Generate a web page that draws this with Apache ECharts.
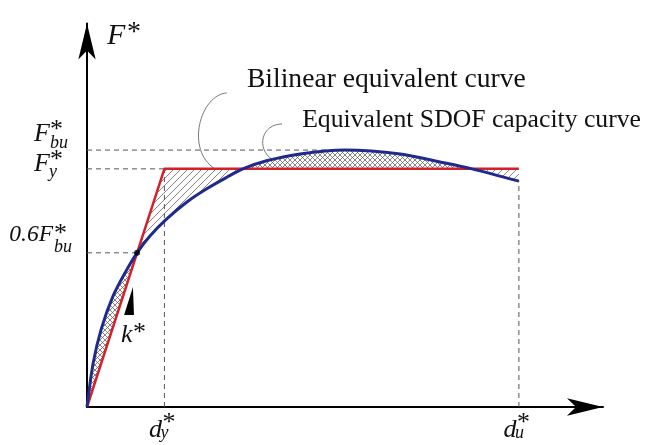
<!DOCTYPE html>
<html>
<head>
<meta charset="utf-8">
<script src="https://cdn.jsdelivr.net/npm/echarts@6/dist/echarts.min.js"></script>
<style>
html, body { margin: 0; padding: 0; background: #fff; }
#chart { width: 653px; height: 445px; }
</style>
</head>
<body>
<div id="chart"></div>
<script>
// equivalent SDOF capacity curve (d*, F*)
const capX = [0, 1.2, 2.8, 5.0, 7.5, 9.7, 12.2, 15.4, 19.3, 23.2, 27.1, 30.2, 34.8, 41.3, 50.0, 60.7, 68.4, 74.6, 83.7]
const capY = [0, 11.5, 20.5, 28.8, 35.3, 40.2, 44.6, 49.0, 53.4, 56.9, 59.9, 62.1, 64.2, 66.0, 67.0, 66.0, 63.9, 62.1, 58.9]

// bilinear equivalent curve
const biX = [0, 15.0, 83.7]
const biY = [0, 62.1, 62.1]

const Fbu = 67.0
const Fy = 62.1
const dyVal = 15.0
const duVal = 83.7

const yTickValues = [Fbu, Fy, 0.6 * Fbu]
const yTickText = [['F', 'bu'], ['F', 'y'], ['0.6F', 'bu']]
const xTickValues = [dyVal, duVal]
const xTickText = [['d', 'y'], ['d', 'u']]

// slope marker and its label
const kTriangle = [[8.9, 31.3], [7.2, 24.0], [9.1, 24.0]]
const kAnchor = [6.6, 18.8]

// leader curves: start, cp1, cp2, end
const leaders = [
  [[27.1, 81.9], [21.9, 81.4], [19.0, 67.0], [24.8, 62.1]],
  [[37.8, 73.8], [33.9, 73.8], [32.6, 67.5], [36.0, 64.4]]
]
const noteText = ['Bilinear equivalent curve', 'Equivalent SDOF capacity curve']
const noteAnchor = [[31.0, 83.2], [41.7, 72.6]]

const X_MAX = 100
const Y_MAX = 100

const BLUE = '#1f2a8c'
const RED = '#d3212b'
const SERIF = '"Liberation Serif", "DejaVu Serif", serif'

// bilinear value at x
const redAt = (x) => {
  for (let k = 1; k < biX.length; k++) {
    if (x <= biX[k]) {
      const t = (x - biX[k - 1]) / (biX[k] - biX[k - 1])
      return biY[k - 1] + t * (biY[k] - biY[k - 1])
    }
  }
  return biY[biY.length - 1]
}

// split the area between the two curves at their crossings
const crossIdx = [0]
for (let i = 1; i < capX.length - 1; i++) {
  if (Math.abs(capY[i] - redAt(capX[i])) < 0.3) crossIdx.push(i)
}
crossIdx.push(capX.length - 1)

const hatchPolys = []
for (let s = 0; s < crossIdx.length - 1; s++) {
  const a = crossIdx[s]
  const b = crossIdx[s + 1]
  const pts = []
  let diff = 0
  for (let i = a; i <= b; i++) {
    pts.push([capX[i], capY[i]])
    if (i > a) diff += capY[i] - redAt(capX[i])
  }
  if (Math.abs(capY[b] - redAt(capX[b])) > 0.3) pts.push([capX[b], redAt(capX[b])])
  for (let k = biX.length - 1; k >= 0; k--) {
    if (biX[k] > capX[a] && biX[k] < capX[b]) pts.push([biX[k], biY[k]])
  }
  hatchPolys.push({ pts, cross: diff > 0 })
}

const makeHatch = (cross, size) => {
  const c = document.createElement('canvas')
  c.width = size
  c.height = size
  const g = c.getContext('2d')
  g.strokeStyle = '#666'
  g.lineWidth = 0.8
  const seg = (x1, y1, x2, y2) => {
    g.beginPath()
    g.moveTo(x1, y1)
    g.lineTo(x2, y2)
    g.stroke()
  }
  seg(0, size, size, 0)
  seg(-1, 1, 1, -1)
  seg(size - 1, size + 1, size + 1, size - 1)
  if (cross) {
    seg(0, 0, size, size)
    seg(size - 1, -1, size + 1, 1)
    seg(-1, size - 1, 1, size + 1)
  }
  return { image: c, repeat: 'repeat' }
}
const singleFill = makeHatch(false, 7)
const crossFill = makeHatch(true, 5)

let peakI = 0
capY.forEach((v, i) => { if (v > capY[peakI]) peakI = i })
const guides = [
  [[0, Fbu], [capX[peakI], Fbu]],
  [[0, Fy], [dyVal, Fy]],
  [[0, 0.6 * Fbu], [dyVal * 0.6 * Fbu / Fy, 0.6 * Fbu]],
  [[dyVal, 0], [dyVal, Fy]],
  [[duVal, 0], [duVal, capY[capY.length - 1]]]
]

// text pieces: [text, size, italic, dx, dy, align]
const yLabelLayout = [
  [[-37, -15.8, 26], [-37, -19.5], [-37, -7]],
  [[-37, -4.8, 26], [-37, -8.5], [-38, 3]],
  [[-34, -17.8, 23.5], [-33, -19], [-33, -6]]
]
const labels = []
yTickValues.forEach((v, i) => {
  const L = yLabelLayout[i]
  labels.push({ at: [0, v], parts: [
    [yTickText[i][0], L[0][2], true, L[0][0], L[0][1], 'right'],
    ['*', 26, false, L[1][0], L[1][1], 'left'],
    [yTickText[i][1], 18, true, L[2][0], L[2][1], 'left']
  ] })
})
xTickValues.forEach((v, i) => {
  labels.push({ at: [v, 0], parts: [
    [xTickText[i][0], 26, true, -15.4, 23, 'left'],
    ['*', 26, false, -2, 16.5, 'left'],
    [xTickText[i][1], 18, true, -4, 26, 'left']
  ] })
})
labels.push({ at: [0, Y_MAX], parts: [['F', 30, true, 20, 12.5, 'left'], ['*', 28, false, 40, 9.5, 'left']] })
labels.push({ at: kAnchor, parts: [['k', 26, true, 0, 0, 'left'], ['*', 26, false, 12, -2, 'left']] })
const noteSize = [27.6, 25.7]
noteText.forEach((t, i) => {
  labels.push({ at: noteAnchor[i], parts: [[t, noteSize[i], false, 0, -8, 'left']] })
})

const chart = echarts.init(document.getElementById('chart'))

const axisBase = {
  type: 'value',
  min: 0,
  axisLine: {
    show: true,
    onZero: false,
    symbol: ['none', 'arrow'],
    symbolSize: [13, 36],
    lineStyle: { color: '#000', width: 2 }
  },
  axisTick: { show: false },
  axisLabel: { show: false },
  splitLine: { show: false }
}

chart.setOption({
  animation: false,
  backgroundColor: '#fff',
  grid: { left: 87, right: 50, top: 23.5, bottom: 38 },
  xAxis: { ...axisBase, max: X_MAX },
  yAxis: { ...axisBase, max: Y_MAX },
  series: [
    {
      type: 'custom',
      silent: true,
      z: 1,
      data: hatchPolys.map((p, i) => i),
      renderItem: (params, api) => {
        const poly = hatchPolys[params.dataIndex]
        return {
          type: 'polygon',
          shape: { points: poly.pts.map((p) => api.coord(p)) },
          style: { fill: poly.cross ? crossFill : singleFill, stroke: null }
        }
      }
    },
    {
      type: 'custom',
      silent: true,
      z: 2,
      data: guides.map((g, i) => i),
      renderItem: (params, api) => {
        const g = guides[params.dataIndex]
        const p1 = api.coord(g[0])
        const p2 = api.coord(g[1])
        return {
          type: 'line',
          shape: { x1: p1[0], y1: p1[1], x2: p2[0], y2: p2[1] },
          style: { stroke: '#555', lineWidth: 1, lineDash: [5, 4] }
        }
      }
    },
    {
      type: 'custom',
      silent: true,
      z: 2,
      data: leaders.map((g, i) => i),
      renderItem: (params, api) => {
        const c = leaders[params.dataIndex].map((p) => api.coord(p))
        return {
          type: 'bezierCurve',
          shape: {
            x1: c[0][0], y1: c[0][1],
            cpx1: c[1][0], cpy1: c[1][1],
            cpx2: c[2][0], cpy2: c[2][1],
            x2: c[3][0], y2: c[3][1]
          },
          style: { stroke: '#777', lineWidth: 1, fill: null }
        }
      }
    },
    {
      name: 'Bilinear equivalent curve',
      type: 'line',
      z: 3,
      data: biX.map((x, i) => [x, biY[i]]),
      showSymbol: false,
      lineStyle: { color: RED, width: 2.5 }
    },
    {
      name: 'Equivalent SDOF capacity curve',
      type: 'line',
      z: 4,
      data: capX.map((x, i) => [x, capY[i]]),
      smooth: 0.3,
      showSymbol: false,
      lineStyle: { color: BLUE, width: 3 }
    },
    {
      type: 'scatter',
      z: 5,
      symbolSize: 6,
      itemStyle: { color: '#000' },
      data: [[dyVal * 0.6 * Fbu / Fy, 0.6 * Fbu]]
    },
    {
      type: 'custom',
      silent: true,
      z: 5,
      data: [0],
      renderItem: (params, api) => ({
        type: 'polygon',
        shape: { points: kTriangle.map((p) => api.coord(p)) },
        style: { fill: '#000' }
      })
    },
    {
      type: 'custom',
      silent: true,
      z: 6,
      clip: false,
      data: labels.map((l, i) => i),
      renderItem: (params, api) => {
        const lab = labels[params.dataIndex]
        const o = api.coord(lab.at)
        return {
          type: 'group',
          children: lab.parts.map((p) => ({
            type: 'text',
            x: o[0] + p[3],
            y: o[1] + p[4],
            style: {
              text: p[0],
              fill: '#111',
              font: (p[2] ? 'italic ' : '') + p[1] + 'px ' + SERIF,
              align: p[5],
              verticalAlign: 'middle'
            }
          }))
        }
      }
    }
  ]
})
</script>
</body>
</html>
